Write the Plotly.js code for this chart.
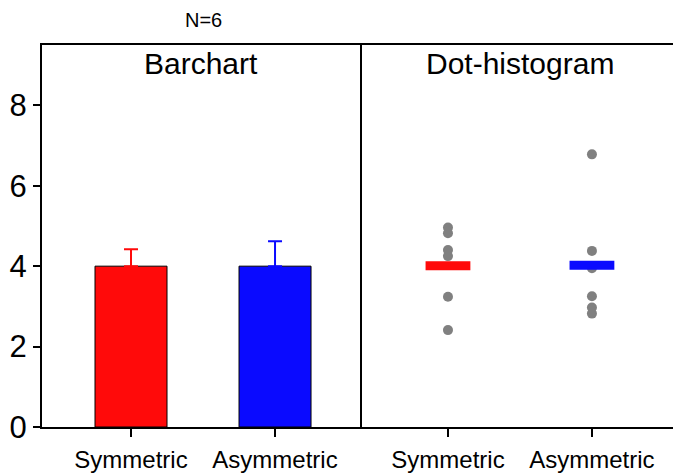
<!DOCTYPE html>
<html>
<head>
<meta charset="utf-8">
<script src="https://cdn.plot.ly/plotly-3.0.1.min.js"></script>
<style>html,body{margin:0;padding:0;background:#fff;}#chart{width:673px;height:476px;}</style>
</head>
<body>
<div id="chart"></div>
<script>
// ---- data ----
const categories = ['Symmetric', 'Asymmetric'];
const barMeans = [4.0, 4.0];
const barErrors = [0.42, 0.62];
const symmetricDots = [4.96, 4.82, 4.40, 4.25, 3.24, 2.41];
const asymmetricDots = [6.78, 4.38, 3.95, 3.25, 2.97, 2.82];
const dotMeans = [4.01, 4.02];
const barColors = ['#FF0A0A', '#0A0AFF'];
const yTicks = [0, 2, 4, 6, 8];

const font = 'Liberation Sans, Arial, sans-serif';

const traces = [];
categories.forEach((c, i) => {
  traces.push({
    type: 'bar', x: [c], y: [barMeans[i]], width: 0.5,
    xaxis: 'x', yaxis: 'y',
    marker: {color: barColors[i], line: {color: '#000', width: 1}},
    error_y: {type: 'data', array: [barErrors[i]], arrayminus: [0], symmetric: false,
              color: barColors[i], thickness: 2, width: 7},
    showlegend: false, hoverinfo: 'skip'
  });
});
traces.push({
  type: 'scatter', mode: 'markers', xaxis: 'x2', yaxis: 'y2',
  x: symmetricDots.map(() => categories[0]).concat(asymmetricDots.map(() => categories[1])),
  y: symmetricDots.concat(asymmetricDots),
  marker: {color: '#808080', size: 10},
  showlegend: false, hoverinfo: 'skip'
});
categories.forEach((c, i) => {
  traces.push({
    type: 'scatter', mode: 'markers', xaxis: 'x2', yaxis: 'y2',
    x: [c], y: [dotMeans[i]],
    marker: {symbol: 'line-ew', size: 32, line: {color: barColors[i], width: 9}},
    showlegend: false, hoverinfo: 'skip'
  });
});

const W = 673, L = 42, divider = 360;
const split = (divider - L) / (W - L);

const layout = {
  width: 673, height: 476,
  margin: {l: L, r: 0, t: 45, b: 49},
  paper_bgcolor: '#fff', plot_bgcolor: '#fff',
  barmode: 'overlay',
  font: {family: font, color: '#000'},
  xaxis: {
    domain: [0, split], range: [-0.618, 1.59], type: 'category',
    categoryorder: 'array', categoryarray: categories,
    showline: true, linecolor: '#000', linewidth: 2, mirror: true,
    ticks: 'outside', ticklen: 8, tickwidth: 2, tickcolor: '#000',
    ticklabelstandoff: 2,
    tickfont: {size: 24, family: font}, showgrid: false, zeroline: false
  },
  xaxis2: {
    domain: [split, 1], range: [-0.611, 1.563], type: 'category', anchor: 'y2',
    categoryorder: 'array', categoryarray: categories,
    showline: true, linecolor: '#000', linewidth: 2, mirror: true,
    ticks: 'outside', ticklen: 8, tickwidth: 2, tickcolor: '#000',
    ticklabelstandoff: 2,
    tickfont: {size: 24, family: font}, showgrid: false, zeroline: false
  },
  yaxis: {
    range: [0, 9.5], tickvals: yTicks, ticktext: yTicks.map(String),
    showline: true, linecolor: '#000', linewidth: 2, mirror: true,
    ticks: 'outside', ticklen: 7, tickwidth: 2, tickcolor: '#000',
    tickfont: {size: 31, family: font}, showgrid: false, zeroline: false
  },
  yaxis2: {
    range: [0, 9.5], anchor: 'x2', showticklabels: false,
    showline: false, ticks: '',
    showgrid: false, zeroline: false
  },
  annotations: [
    {text: 'N=6', xref: 'paper', yref: 'paper', x: (203 - L) / (W - L), y: 1, yshift: 25,
     xanchor: 'center', yanchor: 'middle', showarrow: false, font: {size: 20, family: font}},
    {text: 'Barchart', xref: 'paper', yref: 'paper', x: split / 2, y: 1, yshift: -18,
     xanchor: 'center', yanchor: 'middle', showarrow: false, font: {size: 30, family: font}},
    {text: 'Dot-histogram', xref: 'paper', yref: 'paper', x: (520 - L) / (W - L), y: 1, yshift: -18,
     xanchor: 'center', yanchor: 'middle', showarrow: false, font: {size: 30, family: font}}
  ]
};

Plotly.newPlot('chart', traces, layout, {staticPlot: true, displayModeBar: false});
</script>
</body>
</html>
